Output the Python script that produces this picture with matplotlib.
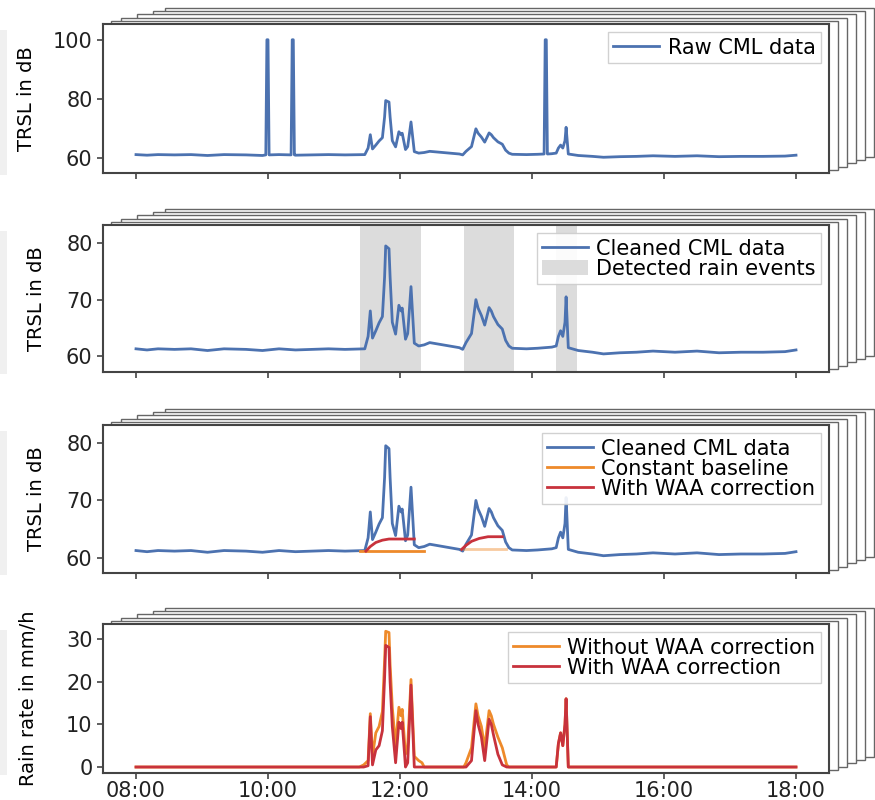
import matplotlib
matplotlib.use("Agg")
import matplotlib.pyplot as plt
import matplotlib.dates as mdates
import matplotlib.patches as mpatches
import pandas as pd

plt.rcParams['font.family'] = ['DejaVu Sans']
plt.rcParams['font.size'] = 14

DAY = "2019-06-01 "

# cleaned transmitted signal level (TRSL) in dB
trsl_times = ["08:00", "08:10", "08:20", "08:35", "08:50", "09:05", "09:20", "09:40", "09:55",
              "10:10", "10:25", "10:40", "10:55", "11:10", "11:28", "11:31", "11:33", "11:35",
              "11:38", "11:41", "11:44", "11:46", "11:47", "11:50", "11:51", "11:53", "11:56",
              "11:59", "12:01", "12:02", "12:05", "12:07", "12:10", "12:13", "12:17", "12:22",
              "12:27", "12:33", "12:42", "12:54", "12:57", "13:00", "13:05", "13:09", "13:11",
              "13:14", "13:17", "13:21", "13:23", "13:25", "13:29", "13:33", "13:36", "13:39",
              "13:42", "13:55", "14:05", "14:18", "14:22", "14:24", "14:26", "14:28", "14:30",
              "14:31", "14:33", "14:42", "14:55", "15:05", "15:20", "15:35", "15:50", "16:10",
              "16:30", "16:50", "17:10", "17:30", "17:50", "18:00"]
trsl_values = [61.3, 61.1, 61.3, 61.2, 61.3, 61.0, 61.3, 61.2, 61.0,
               61.3, 61.1, 61.2, 61.3, 61.2, 61.3, 63.5, 68.0, 63.2,
               64.5, 65.9, 67.0, 74.0, 79.5, 79.0, 74.0, 66.0, 63.9,
               69.0, 68.0, 68.5, 63.0, 64.0, 72.3, 62.3, 61.8, 62.0,
               62.4, 62.2, 61.9, 61.5, 61.2, 62.4, 64.0, 70.0, 68.5,
               67.2, 65.5, 68.6, 68.0, 67.0, 65.6, 64.8, 62.8, 61.8,
               61.4, 61.3, 61.4, 61.6, 61.8, 63.5, 64.5, 63.5, 66.0,
               70.5, 61.5, 61.0, 60.7, 60.4, 60.6, 60.7, 60.9, 60.7,
               60.9, 60.6, 60.7, 60.7, 60.8, 61.1]

# outliers present only in the raw data
spike_times = ["09:58", "09:59", "10:00", "10:01", "10:21", "10:22", "10:23", "10:24",
               "14:11", "14:12", "14:13", "14:14"]
spike_values = [61.2, 100.0, 100.0, 61.2, 61.2, 100.0, 100.0, 61.2,
                61.5, 100.0, 100.0, 61.5]

# detected wet periods
rain_start = ["11:24", "12:58", "14:22"]
rain_end = ["12:19", "13:44", "14:41"]

# constant baseline for the first two wet periods
baseline_start = ["11:24", "12:58"]
baseline_end = ["12:22", "13:36"]
baseline_values = [61.2, 61.5]

# baseline plus wet antenna attenuation
waa_times = [["11:29", "11:33", "11:38", "11:44", "11:50", "12:13"],
             ["12:56", "13:00", "13:05", "13:12", "13:20", "13:33"]]
waa_values = [[61.2, 62.0, 62.7, 63.1, 63.3, 63.3],
              [61.5, 62.2, 62.9, 63.4, 63.7, 63.7]]

# rain rate in mm/h
rr_times = ["08:00", "11:23", "11:27", "11:31", "11:33", "11:35", "11:38", "11:41", "11:44",
            "11:46", "11:47", "11:50", "11:51", "11:53", "11:56", "11:59", "12:01", "12:02",
            "12:05", "12:07", "12:10", "12:13", "12:17", "12:20", "12:22", "12:58", "13:00",
            "13:05", "13:09", "13:11", "13:14", "13:17", "13:21", "13:23", "13:25", "13:29",
            "13:33", "13:37", "13:39", "14:22", "14:24", "14:26", "14:28", "14:30", "14:31",
            "14:33", "18:00"]
rr_no_waa = [0, 0, 0.5, 1.5, 12.5, 2.5, 8.0, 9.5, 13.0,
             25.0, 31.8, 31.5, 24.0, 14.0, 5.0, 14.0, 12.0, 13.5,
             3.0, 5.0, 20.5, 2.5, 1.5, 1.0, 0, 0, 1.0,
             4.5, 14.8, 12.0, 9.5, 4.5, 13.2, 12.0, 10.0, 7.0,
             4.5, 0.5, 0, 0, 5.5, 8.0, 5.0, 10.0, 16.0,
             0, 0]
rr_waa = [0, 0, 0, 0.3, 11.8, 0.5, 4.0, 5.0, 8.5,
          21.0, 28.5, 28.0, 20.0, 9.5, 1.0, 10.5, 9.0, 10.5,
          0, 1.0, 19.2, 0, 0, 0, 0, 0, 0,
          1.5, 13.2, 10.0, 7.0, 1.5, 11.2, 10.0, 7.5, 3.0,
          0.5, 0, 0, 0, 5.5, 8.0, 5.0, 10.0, 16.0,
          0, 0]


def ts(times):
    return pd.to_datetime([DAY + t for t in times])


BLUE = '#4C72B0'
ORANGE = '#EE8A2A'
RED = '#C8323C'

W, H = 875, 800
fig = plt.figure(figsize=(W / 100, H / 100), dpi=100)

# axes boxes in pixels: left, top, right, bottom
boxes = [(103, 24, 829, 173), (103, 225, 829, 372), (103, 425, 829, 573), (103, 624, 829, 773)]


def px_rect(l, t, r, b):
    return [l / W, 1 - b / H, (r - l) / W, (b - t) / H]


# stacked "pages" behind each panel
left_shift = [0, 8, 18, 34, 50, 62]
for (l, t, r, b) in boxes:
    fig.add_artist(mpatches.Rectangle((0, 1 - (b + 2) / H), 7 / W, (b - t - 4) / H,
                                      transform=fig.transFigure, facecolor='#f0f0f0',
                                      edgecolor='none', zorder=-10))
    for k in range(5, 0, -1):
        rect = px_rect(l + left_shift[k], t - 3.2 * k, r + 9 * k, b - 3.2 * k)
        fig.add_artist(mpatches.Rectangle((rect[0], rect[1]), rect[2], rect[3],
                                          transform=fig.transFigure, facecolor='white',
                                          edgecolor='#666666', linewidth=1.0, zorder=-5))

axes = [fig.add_axes(px_rect(*bx)) for bx in boxes]

t_trsl = ts(trsl_times)
raw = pd.Series(trsl_values, index=t_trsl)
raw = pd.concat([raw, pd.Series(spike_values, index=ts(spike_times))]).sort_index()

lw = 2.0

# panel 1: raw data
ax = axes[0]
ax.plot(raw.index, raw.values, color=BLUE, lw=lw, label='Raw CML data')
ax.set_ylim(55.1, 105.3)
ax.set_yticks([60, 80, 100])

# panel 2: cleaned data and wet periods
ax = axes[1]
ax.plot(t_trsl, trsl_values, color=BLUE, lw=lw, label='Cleaned CML data')
for i, (s, e) in enumerate(zip(rain_start, rain_end)):
    ax.axvspan(pd.Timestamp(DAY + s), pd.Timestamp(DAY + e), color='#dcdcdc', lw=0,
               label='Detected rain events' if i == 0 else None, zorder=0)
ax.set_ylim(57.2, 83.2)
ax.set_yticks([60, 70, 80])

# panel 3: baselines
ax = axes[2]
ax.plot(t_trsl, trsl_values, color=BLUE, lw=lw, label='Cleaned CML data')
for i, (s, e, v) in enumerate(zip(baseline_start, baseline_end, baseline_values)):
    ax.plot(ts([s, e]), [v, v], color=ORANGE, lw=lw, alpha=1.0 if i == 0 else 0.45,
            label='Constant baseline' if i == 0 else None)
for i, (tt, vv) in enumerate(zip(waa_times, waa_values)):
    ax.plot(ts(tt), vv, color=RED, lw=lw, label='With WAA correction' if i == 0 else None)
ax.set_ylim(57.4, 83.1)
ax.set_yticks([60, 70, 80])

# panel 4: rain rate
ax = axes[3]
t_rr = ts(rr_times)
ax.plot(t_rr, rr_no_waa, color=ORANGE, lw=lw, label='Without WAA correction')
ax.plot(t_rr, rr_waa, color=RED, lw=lw, label='With WAA correction')
ax.set_ylim(-1.4, 33.5)
ax.set_yticks([0, 10, 20, 30])

ylabels = ['TRSL in dB', 'TRSL in dB', 'TRSL in dB', 'Rain rate in mm/h']
ylabel_right_px = [36, 46, 46, 38]
xlim = (pd.Timestamp(DAY + "07:30"), pd.Timestamp(DAY + "18:30"))
xticks = ts(["08:00", "10:00", "12:00", "14:00", "16:00", "18:00"])

for i, ax in enumerate(axes):
    ax.set_xlim(*xlim)
    ax.set_xticks(xticks)
    ax.xaxis.set_major_formatter(mdates.DateFormatter('%H:%M'))
    ax.set_ylabel(ylabels[i], fontsize=14)
    ax.yaxis.set_label_coords((ylabel_right_px[i] - 103) / 726, 0.5)
    ax.tick_params(labelsize=15, length=4, width=1.2, color='#444', labelcolor='#222')
    ax.tick_params(axis='x', pad=1.5)
    for sp in ax.spines.values():
        sp.set_color('#444')
        sp.set_linewidth(1.5)
    if i < 3:
        ax.tick_params(labelbottom=False)
    ax.legend(loc='upper right', fontsize=15, handlelength=2.2, labelspacing=0.0,
              borderpad=0.25, handletextpad=0.4, borderaxespad=0.4, fancybox=False,
              edgecolor='#cccccc', framealpha=0.9)

fig.savefig('out.png', dpi=100)
